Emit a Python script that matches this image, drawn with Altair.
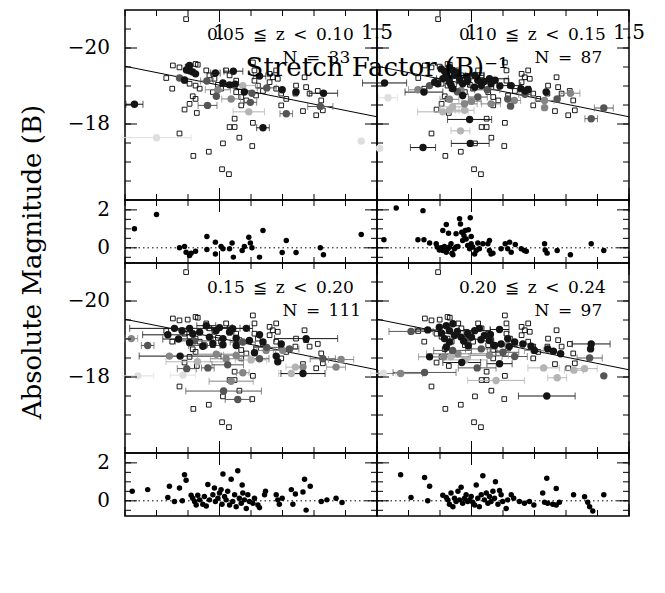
import altair as alt
import pandas as pd

FONT = "DejaVu Serif"
W, HM, HR = 252, 190, 63      # panel width, main-panel height, residual-panel height
TW, LW, SH = 40, 72, 76       # title column width, label column width, bottom strip height

# ---------------- axes / domains ----------------
x_domain = [0.7, 1.5]
mag_domain = [-21, -16]
res_domain = [-0.8, 2.52]
x_ticks = [0.7, 0.8, 0.9, 1.0, 1.1, 1.2, 1.3, 1.4, 1.5]
x_major = [1.0, 1.5]
mag_ticks = [-20.5, -20, -19.5, -19, -18.5, -18, -17.5, -17, -16.5]
mag_major = [-20, -18]
res_ticks = [-0.5, 0, 0.5, 1, 1.5, 2]
res_major = [0, 2]
x_labels = [1.0, 1.5]
x_label_text = ["1", "1.5"]
mag_labels = [-20, -18]
mag_label_text = ["\u221220", "\u221218"]
res_labels = [0, 2]
res_label_text = ["0", "2"]
y_title = "Absolute Magnitude (B)"
x_title = "Stretch Factor (B)\u207b\u00b9"

# ---------------- fit line and zero line ----------------
fit_x = [0.7, 1.5]
fit_y = [-19.52, -18.19]
zero_x = [0.7, 1.5]
zero_y = [0, 0]

# ---------------- panel texts ----------------
E = "\u2002"
z_labels = [f"0.05{E}≦{E}z{E}<{E}0.10", f"0.10{E}≦{E}z{E}<{E}0.15",
            f"0.15{E}≦{E}z{E}<{E}0.20", f"0.20{E}≦{E}z{E}<{E}0.24"]
n_labels = [f"N{E}={E}33", f"N{E}={E}87", f"N{E}={E}111", f"N{E}={E}97"]

# ---------------- comparison sample (open squares) ----------------
sq_x = [0.894, 0.852, 0.873, 0.899, 0.924, 0.931, 0.831, 0.850, 0.889, 0.905,
        0.924, 0.937, 0.915, 0.924, 0.905, 0.889, 0.928, 0.958, 0.968, 0.984,
        0.995, 0.979, 1.005, 1.021, 1.032, 1.053, 1.063, 1.053, 1.069, 1.069,
        1.085, 1.106, 1.111, 1.111, 1.122, 1.116, 1.138, 1.159, 1.159, 1.169,
        1.180, 1.185, 1.180, 1.196, 1.196, 1.212, 1.243, 1.241, 1.270, 1.275,
        1.286, 1.265, 1.307, 1.323, 1.328, 1.312, 1.048, 1.032, 1.048, 1.063,
        1.011, 1.106, 1.104, 0.873, 0.966, 0.917, 1.008, 1.030]
sq_y = [-20.76, -19.54, -19.49, -19.51, -19.58, -19.56, -19.21, -18.93, -19.14, -19.06,
        -19.01, -18.93, -18.73, -18.66, -18.53, -18.38, -18.29, -19.41, -19.28, -19.19,
        -19.03, -18.84, -18.93, -19.41, -19.28, -19.14, -18.97, -18.84, -18.71, -18.49,
        -18.62, -19.62, -19.41, -19.14, -19.01, -18.75, -18.87, -19.32, -19.10, -19.23,
        -19.41, -19.19, -18.93, -18.80, -18.49, -18.66, -19.01, -18.80, -19.23, -18.97,
        -18.80, -18.34, -18.23, -18.62, -18.36, -18.87, -18.14, -17.92, -17.92, -17.64,
        -17.49, -18.03, -17.42, -17.75, -17.27, -17.16, -16.81, -16.68]

# ---------------- panel 1: 0.05 <= z < 0.10 ----------------
p1_x = [0.730, 0.905, 0.895, 0.905, 0.915, 0.889, 0.924, 0.987, 1.044, 1.011,
        1.032, 1.079, 1.127, 1.138, 1.199, 1.243, 1.330, 1.050,
        0.873, 0.960, 0.990, 0.962, 1.103, 1.098, 1.212, 1.320, 1.150,
        1.037, 0.995,
        1.074, 1.093,
        0.800, 1.450]
p1_y = [-18.52, -19.54, -19.42, -19.40, -19.37, -19.16, -19.32, -19.34, -19.39, -19.08,
        -19.03, -18.84, -19.26, -17.90, -18.90, -18.84, -18.81, -19.05,
        -19.21, -19.13, -18.73, -18.49, -18.81, -18.57, -18.27, -18.46, -18.95,
        -18.66, -18.90,
        -19.01, -18.32,
        -17.64, -17.55]
p1_err = [0.027, 0, 0, 0, 0, 0, 0, 0.015, 0.03, 0,
          0, 0, 0.02, 0.02, 0, 0, 0.045, 0,
          0, 0.02, 0, 0.03, 0, 0.02, 0.02, 0.04, 0.03,
          0.03, 0.04,
          0.04, 0.05,
          0.11, 0]
p1_shade = list("kkkkkkkkkkkkkkkkkk" "ddddddddd" "mm" "ll" "vv")

r1_x = [0.730, 0.800, 0.873, 0.889, 0.894, 0.905, 0.910, 0.924, 0.960, 0.960,
        0.987, 0.987, 1.005, 1.011, 1.032, 1.040, 1.044, 1.072, 1.079, 1.093,
        1.098, 1.103, 1.127, 1.138, 1.199, 1.212, 1.243, 1.320, 1.330, 1.450]
r1_y = [1.00, 1.75, 0.00, 0.07, -0.23, -0.40, -0.28, -0.18, 0.60, -0.09,
        0.30, -0.32, 0.07, -0.05, -0.05, 0.25, -0.49, -0.14, 0.07, 0.56,
        0.26, 0.00, -0.49, 0.91, -0.25, 0.39, -0.25, 0.00, -0.37, 0.70]

# ---------------- panel 2: 0.10 <= z < 0.15 ----------------
p2_x = [0.724, 0.849, 0.904, 0.920, 0.930, 0.941, 0.946, 0.909, 0.893, 0.930,
        0.962, 0.972, 0.988, 1.010, 1.010, 1.031, 1.057, 1.062, 1.126, 1.157,
        1.170, 1.237, 0.972, 0.941, 0.994, 0.846, 0.996, 0.883, 0.925, 0.955,
        0.985, 1.040, 1.075, 1.090, 0.915, 0.935, 1.020, 1.180,
        0.867, 1.380, 1.420, 1.272, 1.124, 1.020, 1.115, 0.955, 1.050, 1.170,
        0.830, 1.232, 1.232, 1.314, 0.978, 1.062, 1.136, 0.967, 0.930, 1.000,
        0.909, 0.930, 0.978, 0.965, 0.940,
        0.708, 0.735]
p2_y = [-19.08, -18.84, -19.45, -19.32, -19.49, -19.41, -19.28, -19.19, -19.06, -19.10,
        -19.19, -19.06, -19.14, -19.28, -18.97, -19.01, -19.19, -19.06, -19.01, -18.93,
        -18.87, -18.84, -18.75, -18.93, -18.12, -17.38, -17.49, -19.10, -19.22, -19.35,
        -19.25, -19.12, -19.15, -19.00, -19.38, -19.02, -19.15, -18.90,
        -19.01, -18.14, -18.42, -18.66, -18.47, -18.71, -18.66, -18.85, -18.90, -18.78,
        -18.90, -18.62, -18.43, -18.81, -18.53, -18.53, -18.62, -18.88, -18.65, -18.60,
        -18.32, -18.36, -18.36, -17.82, -18.45,
        -17.36, -18.69]
p2_err = [0.07, 0.06, 0, 0, 0, 0, 0, 0.02, 0, 0,
          0, 0.02, 0, 0.03, 0, 0, 0.06, 0, 0.03, 0,
          0, 0, 0, 0, 0.07, 0.04, 0.06, 0, 0, 0,
          0, 0, 0, 0, 0, 0, 0, 0,
          0, 0.02, 0.03, 0, 0, 0.03, 0, 0, 0.04, 0.02,
          0.03, 0.03, 0, 0.03, 0.04, 0.03, 0.02, 0, 0.03, 0.03,
          0.08, 0.03, 0.03, 0.03, 0.04,
          0, 0.03]
p2_shade = list("kkkkkkkkkkkkkkkkkkkkkkkkkkkkkkkkkkkkkk" "dddddddddd" "mmmmmmmmmm" "lllll" "vv")

r2_x = [0.722, 0.761, 0.830, 0.849, 0.846, 0.867, 0.888, 0.891,
        0.898, 0.904, 0.909, 0.914, 0.920, 0.925, 0.930, 0.935, 0.938, 0.941, 0.946, 0.951, 0.957,
        0.909, 0.920, 0.927, 0.951, 0.962, 0.965, 0.969, 0.972, 0.976, 0.980, 0.983, 0.990, 0.996, 0.999,
        0.988, 0.994, 0.999, 1.004, 1.010, 1.015, 1.020, 1.025, 1.036, 1.057,
        1.052, 1.057, 1.068, 1.062, 1.094, 1.107, 1.115, 1.121, 1.126, 1.139,
        1.158, 1.168, 1.174, 1.232, 1.234, 1.240, 1.272, 1.314, 1.380, 1.420]
r2_y = [0.42, 2.10, 0.42, 0.42, 1.96, 0.25, 0.21, 0.04,
        -0.11, 0.00, -0.14, 0.07, -0.23, -0.05, 0.04, 0.21, -0.28, -0.37, -0.05, 0.04, 0.07,
        0.91, 1.23, 0.77, 0.74, 1.53, 1.26, 0.82, 0.39, 0.65, 0.91, 0.47, 0.95, 1.58, 0.60,
        0.12, -0.05, 0.21, 0.04, -0.32, -0.14, 0.25, -0.05, 0.21, 0.39,
        0.21, -0.14, -0.28, -0.32, -0.05, 0.21, -0.05, 0.30, -0.23, 0.18,
        -0.05, -0.14, -0.18, 0.21, -0.11, -0.28, -0.14, -0.37, 0.21, -0.14]

# ---------------- panel 3: 0.15 <= z < 0.20 ----------------
p3_x = [0.857, 0.836, 0.881, 0.905, 0.915, 0.937, 0.958, 0.968, 0.989, 1.011,
        1.032, 1.042, 1.053, 1.085, 1.095, 1.127, 1.138, 1.196, 1.275, 0.875,
        1.265, 0.905, 0.947, 0.979, 1.011, 1.053, 1.111, 1.180, 1.185, 0.870, 1.000,
        0.772, 0.896, 0.963, 1.013, 1.058, 1.026, 1.127, 1.222, 1.328, 0.952, 1.074, 0.920, 1.150,
        0.720, 0.841, 1.074, 1.037, 1.370, 1.386, 1.265, 1.201, 1.021, 1.053, 1.148, 0.990,
        1.228, 1.241, 0.930, 1.100,
        0.741, 0.884]
p3_y = [-19.28, -19.11, -19.22, -19.28, -19.14, -19.18, -19.35, -19.05, -19.22, -19.01,
        -19.18, -19.27, -19.02, -19.28, -18.96, -19.11, -18.92, -18.87, -19.01, -18.55,
        -18.09, -18.90, -18.81, -18.88, -18.85, -18.83, -18.64, -18.55, -18.40, -19.00, -19.30,
        -18.83, -18.22, -18.24, -17.63, -17.41, -18.32, -18.48, -18.74, -18.48, -18.83, -18.92, -18.95, -18.78,
        -19.01, -18.55, -18.11, -17.89, -18.26, -18.46, -18.26, -18.70, -18.48, -18.57, -18.70, -18.60,
        -18.09, -18.26, -18.40, -18.45,
        -18.03, -18.05]
p3_err = [0, 0.08, 0, 0.19, 0, 0, 0.03, 0, 0, 0,
          0, 0, 0, 0.02, 0, 0, 0, 0, 0.10, 0.13,
          0.07, 0, 0, 0, 0, 0, 0, 0, 0, 0.05, 0.04,
          0.02, 0.03, 0.02, 0.12, 0.04, 0.05, 0.03, 0.03, 0.04, 0.05, 0.04, 0.06, 0.04,
          0.02, 0, 0.02, 0.07, 0.03, 0.04, 0, 0.03, 0.05, 0.04, 0.03, 0.06,
          0.04, 0.03, 0.10, 0.05,
          0.05, 0.04]
p3_shade = list("kkkkkkkkkkkkkkkkkkkkkkkkkkkkkkk" "ddddddddddddd" "mmmmmmmmmmmm" "llll" "vv")

r3_x = [0.723, 0.772, 0.836, 0.841, 0.857, 0.873, 0.882, 0.889, 0.894,
        0.910, 0.915, 0.921, 0.926, 0.931, 0.937, 0.947, 0.952, 0.958, 0.963,
        0.968, 0.979, 0.984, 0.987, 0.995, 1.000, 1.005, 1.008, 1.011, 1.016,
        1.021, 1.026, 1.032, 1.037, 1.042, 1.048, 1.053, 1.058, 1.063, 1.069,
        1.072, 1.074, 1.079, 1.085, 1.090, 1.095, 1.106, 1.111, 1.122, 1.127,
        1.143, 1.146, 1.180, 1.185, 1.190, 1.199, 1.228, 1.233, 1.241, 1.265,
        1.270, 1.275, 1.288, 1.323, 1.341, 1.370, 1.389]
r3_y = [0.50, 0.59, 0.18, 0.77, -0.04, 0.68, 0.00, 1.37, 1.08,
        0.29, 0.14, -0.04, -0.22, 0.29, 0.05, -0.18, 0.23, -0.27, 0.86,
        0.05, 0.32, 0.68, -0.04, 0.14, 0.41, 0.59, -0.18, 1.41, 0.23,
        0.05, 0.50, -0.22, 1.14, -0.04, 0.32, -0.31, 1.59, 0.14, -0.13,
        0.83, 0.41, 0.05, -0.40, 0.32, -0.04, -0.13, 0.14, -0.22, -0.36,
        0.32, 0.50, 0.32, 0.05, -0.18, 0.14, 0.59, -0.18, 0.36, 0.47,
        1.14, -0.49, 0.77, -0.04, 0.05, 0.14, -0.09]

# ---------------- panel 4: 0.20 <= z < 0.24 ----------------
p4_x = [0.861, 0.898, 0.920, 0.930, 0.941, 0.946, 0.914, 0.930, 0.967, 0.988,
        1.010, 1.025, 1.041, 1.057, 1.089, 1.073, 1.094, 1.115, 1.137, 1.163,
        1.189, 1.242, 1.283, 1.380, 1.378, 0.920, 0.969, 1.089, 1.239, 0.867,
        0.955, 0.975, 1.000, 1.030, 1.060, 1.120, 0.905, 0.990, 1.200, 1.260,
        0.808, 0.851, 1.018, 1.420, 1.375, 0.983, 1.031, 1.137, 0.940, 1.100,
        0.775, 0.912, 1.057, 1.115, 1.198, 0.957,
        1.229, 1.272, 1.325, 1.359, 1.078, 0.935, 0.980,
        0.720]
p4_y = [-19.24, -19.31, -19.35, -19.22, -19.40, -19.09, -19.01, -18.92, -19.05, -19.14,
        -19.22, -19.28, -19.09, -18.96, -19.25, -18.83, -18.87, -19.01, -18.92, -18.87,
        -18.81, -18.74, -18.61, -18.87, -18.74, -18.79, -18.38, -18.35, -17.50, -18.53,
        -19.20, -18.95, -19.05, -18.98, -19.12, -18.80, -19.15, -18.82, -18.70, -18.68,
        -19.20, -18.12, -18.24, -18.03, -18.50, -18.92, -18.74, -18.54, -18.70, -18.65,
        -18.09, -18.53, -18.57, -18.83, -18.70, -18.61,
        -18.24, -17.98, -18.18, -18.22, -17.91, -18.53, -18.45,
        -18.10]
p4_err = [0.04, 0, 0, 0, 0, 0, 0, 0, 0, 0,
          0.05, 0, 0, 0, 0.03, 0, 0, 0, 0, 0,
          0, 0, 0, 0.06, 0, 0, 0.06, 0.04, 0.09, 0,
          0, 0, 0, 0, 0, 0, 0, 0, 0, 0,
          0.07, 0.10, 0.06, 0, 0.04, 0, 0.05, 0.04, 0.06, 0.05,
          0.07, 0.08, 0.06, 0.04, 0.03, 0.10,
          0.05, 0.03, 0.03, 0.04, 0.09, 0.06, 0.07,
          0.04]
p4_shade = list("kkkkkkkkkkkkkkkkkkkkkkkkkkkkkkkkkkkkkkkk" "dddddddddd" "mmmmmm" "lllllll" "v")

r4_x = [0.775, 0.808, 0.851, 0.867, 0.861,
        0.909, 0.920, 0.925, 0.930, 0.935, 0.941, 0.946, 0.951, 0.957, 0.962,
        0.967, 0.972, 0.978, 0.983, 0.988, 0.994, 0.999, 1.004, 1.010, 1.015,
        1.020, 1.025, 1.031, 1.036, 1.041, 1.047, 1.052, 1.057, 1.062, 1.068,
        1.073, 1.076, 1.084, 1.089, 1.094, 1.099, 1.110, 1.115, 1.126, 1.134,
        1.152, 1.168, 1.184, 1.198, 1.226, 1.232, 1.239, 1.242, 1.258, 1.269,
        1.269, 1.279, 1.324, 1.359, 1.369, 1.375, 1.385, 1.420]
r4_y = [1.37, 0.18, 1.23, 0.77, 0.00,
        0.29, 0.18, 0.05, -0.18, 0.41, -0.31, 0.14, -0.04, 0.50, 0.05,
        0.72, -0.13, 0.14, 0.32, -0.04, 0.05, 0.23, -0.07, -0.22, 0.83,
        0.14, -0.31, 0.32, 1.32, 0.05, 0.41, -0.13, 0.23, -0.04, 0.50,
        0.14, 1.01, -0.18, 0.54, 0.32, -0.04, -0.40, 0.05, 0.32, 0.14,
        -0.04, -0.13, -0.04, -0.22, 0.41, -0.07, 1.19, -0.13, -0.18, 0.65,
        -0.22, -0.07, 0.32, 0.22, -0.07, -0.31, -0.54, 0.32]

# ---------------- styling ----------------
shade_keys = ["v", "l", "m", "d", "k"]
shade_colors = ["#dedede", "#b4b4b4", "#858585", "#555555", "#141414"]
shade_rank = {"v": 0, "l": 1, "m": 2, "d": 3, "k": 4}
MINOR, MAJOR = 6, 12   # tick lengths in pixels
NOFRAME = alt.ViewBackground(strokeOpacity=0)

fit_df = pd.DataFrame({"x": fit_x, "y": fit_y})
zero_df = pd.DataFrame({"x": zero_x, "y": zero_y})
sq_df = pd.DataFrame({"x": sq_x, "y": sq_y})


def mag_scale():
    return alt.Scale(domain=mag_domain, reverse=True, nice=False, zero=False)


def res_scale():
    return alt.Scale(domain=res_domain, nice=False, zero=False)


def inward_ticks(X, Y, h, yminor, ymajor):
    """Tick marks on all four edges, drawn inside the frame, positioned by the scales."""
    layers = []
    for vals, ln in ((x_ticks, MINOR), (x_major, MAJOR)):
        base = alt.Chart(pd.DataFrame({"v": vals})).mark_rule(color="black", strokeWidth=1)
        layers.append(base.encode(x=X("v"), y=alt.value(0), y2=alt.value(ln)))
        layers.append(base.encode(x=X("v"), y=alt.value(h), y2=alt.value(h - ln)))
    for vals, ln in ((yminor, MINOR), (ymajor, MAJOR)):
        base = alt.Chart(pd.DataFrame({"v": vals})).mark_rule(color="black", strokeWidth=1)
        layers.append(base.encode(y=Y("v"), x=alt.value(0), x2=alt.value(ln)))
        layers.append(base.encode(y=Y("v"), x=alt.value(W), x2=alt.value(W - ln)))
    return layers


def label_cell(scale, h, vals, texts):
    """Left-hand column cell holding the y tick labels of one row, on that row's scale."""
    d = pd.DataFrame({"v": vals, "t": texts})
    return alt.Chart(d).mark_text(align="right", baseline="middle", font=FONT, fontSize=20,
                                  color="black").encode(
        y=alt.Y("v:Q", scale=scale, axis=None), x=alt.value(LW - 15), text="t:N"
    ).properties(width=LW, height=h, view=NOFRAME)


def main_panel(xs, ys, es, cs, zlab, nlab):
    df = pd.DataFrame({"x": xs, "y": ys, "e": es, "c": cs})
    df["rk"] = df["c"].map(shade_rank)
    df = df.sort_values("rk", kind="stable")
    xsc = alt.Scale(domain=x_domain, nice=False, zero=False)
    ysc = mag_scale()

    def X(f):
        return alt.X(f"{f}:Q", scale=xsc, axis=None)

    def Y(f):
        return alt.Y(f"{f}:Q", scale=ysc, axis=None)

    color = alt.Color("c:N", scale=alt.Scale(domain=shade_keys, range=shade_colors), legend=None)

    sq = alt.Chart(sq_df).mark_point(shape="square", filled=False, size=22, color="black",
                                     strokeWidth=0.9, opacity=1).encode(x=X("x"), y=Y("y"))
    fit = alt.Chart(fit_df).mark_line(color="black", strokeWidth=1).encode(x=X("x"), y=Y("y"))
    base = alt.Chart(df)
    errd = base.transform_filter("datum.e > 0").transform_calculate(
        lo="datum.x - datum.e", hi="datum.x + datum.e")
    bars = errd.mark_rule(strokeWidth=1).encode(x=X("lo"), x2="hi:Q", y=Y("y"), color=color)
    capl = errd.mark_tick(orient="vertical", size=7, thickness=1).encode(
        x=X("lo"), y=Y("y"), color=color)
    caph = errd.mark_tick(orient="vertical", size=7, thickness=1).encode(
        x=X("hi"), y=Y("y"), color=color)
    dots = base.mark_circle(size=55, opacity=1).encode(x=X("x"), y=Y("y"), color=color)
    tdf = pd.DataFrame({"x": [0.96, 1.20], "y": [-20.33, -19.74], "t": [zlab, nlab]})
    txt = alt.Chart(tdf).mark_text(align="left", baseline="middle", font=FONT, fontSize=17,
                                   color="black").encode(x=X("x"), y=Y("y"), text="t:N")
    layers = [sq, fit, bars, capl, caph, dots, txt] + inward_ticks(X, Y, HM, mag_ticks, mag_major)
    return alt.layer(*layers).properties(width=W, height=HM)


def res_panel(xs, ys):
    df = pd.DataFrame({"x": xs, "y": ys})
    xsc = alt.Scale(domain=x_domain, nice=False, zero=False)
    rsc = res_scale()

    def X(f):
        return alt.X(f"{f}:Q", scale=xsc, axis=None)

    def Y(f):
        return alt.Y(f"{f}:Q", scale=rsc, axis=None)

    zero = alt.Chart(zero_df).mark_line(color="black", strokeWidth=1,
                                        strokeDash=[1.5, 3]).encode(x=X("x"), y=Y("y"))
    dots = alt.Chart(df).mark_circle(size=30, color="black", opacity=1).encode(x=X("x"), y=Y("y"))
    layers = [zero, dots] + inward_ticks(X, Y, HR, res_ticks, res_major)
    return alt.layer(*layers).properties(width=W, height=HR)


p1 = main_panel(p1_x, p1_y, p1_err, p1_shade, z_labels[0], n_labels[0])
p2 = main_panel(p2_x, p2_y, p2_err, p2_shade, z_labels[1], n_labels[1])
p3 = main_panel(p3_x, p3_y, p3_err, p3_shade, z_labels[2], n_labels[2])
p4 = main_panel(p4_x, p4_y, p4_err, p4_shade, z_labels[3], n_labels[3])
q1 = res_panel(r1_x, r1_y)
q2 = res_panel(r2_x, r2_y)
q3 = res_panel(r3_x, r3_y)
q4 = res_panel(r4_x, r4_y)

l1 = label_cell(mag_scale(), HM, mag_labels, mag_label_text)
l2 = label_cell(res_scale(), HR, res_labels, res_label_text)
l3 = label_cell(mag_scale(), HM, mag_labels, mag_label_text)
l4 = label_cell(res_scale(), HR, res_labels, res_label_text)

grid = alt.concat(l1, p1, p2, l2, q1, q2, l3, p3, p4, l4, q3, q4,
                  columns=3, spacing=0, bounds="flush", align="each")

# bottom strip: x tick labels under both columns (each on its own panel scale) + x title
xl_df = pd.DataFrame({"v": x_labels, "t": x_label_text})
xl_left = alt.Chart(xl_df).mark_text(align="center", baseline="top", font=FONT, fontSize=20,
                                     color="black").encode(
    x=alt.X("v:Q", scale=alt.Scale(domain=x_domain, range=[LW, LW + W], nice=False, zero=False),
            axis=None),
    y=alt.value(13), text="t:N")
xl_right = alt.Chart(xl_df).mark_text(align="center", baseline="top", font=FONT, fontSize=20,
                                      color="black").encode(
    x=alt.X("v:Q", scale=alt.Scale(domain=x_domain, range=[LW + W, LW + 2 * W], nice=False,
                                   zero=False), axis=None),
    y=alt.value(13), text="t:N")
xt = alt.Chart(pd.DataFrame({"t": [x_title]})).mark_text(
    align="center", baseline="alphabetic", font=FONT, fontSize=26, color="black").encode(
    x=alt.value(LW + W), y=alt.value(66), text="t:N")
strip = alt.layer(xl_left, xl_right, xt).resolve_scale(x="independent").properties(
    width=LW + 2 * W + 24, height=SH, view=NOFRAME)

right_block = alt.vconcat(grid, strip, spacing=0, bounds="flush")

title_cell = alt.Chart(pd.DataFrame({"t": [y_title]})).mark_text(
    angle=270, align="center", baseline="alphabetic", font=FONT, fontSize=26,
    color="black").encode(x=alt.value(TW - 12), y=alt.value(252), text="t:N").properties(
    width=TW, height=2 * HM + 2 * HR, view=NOFRAME)

chart = alt.hconcat(title_cell, right_block, spacing=0, bounds="flush").properties(
    padding={"left": 5, "top": 0, "right": 0, "bottom": 0}, background="white"
).configure_view(stroke="black", strokeWidth=1.5)

chart.save("out.html", embed_options={"renderer": "svg", "actions": False})
